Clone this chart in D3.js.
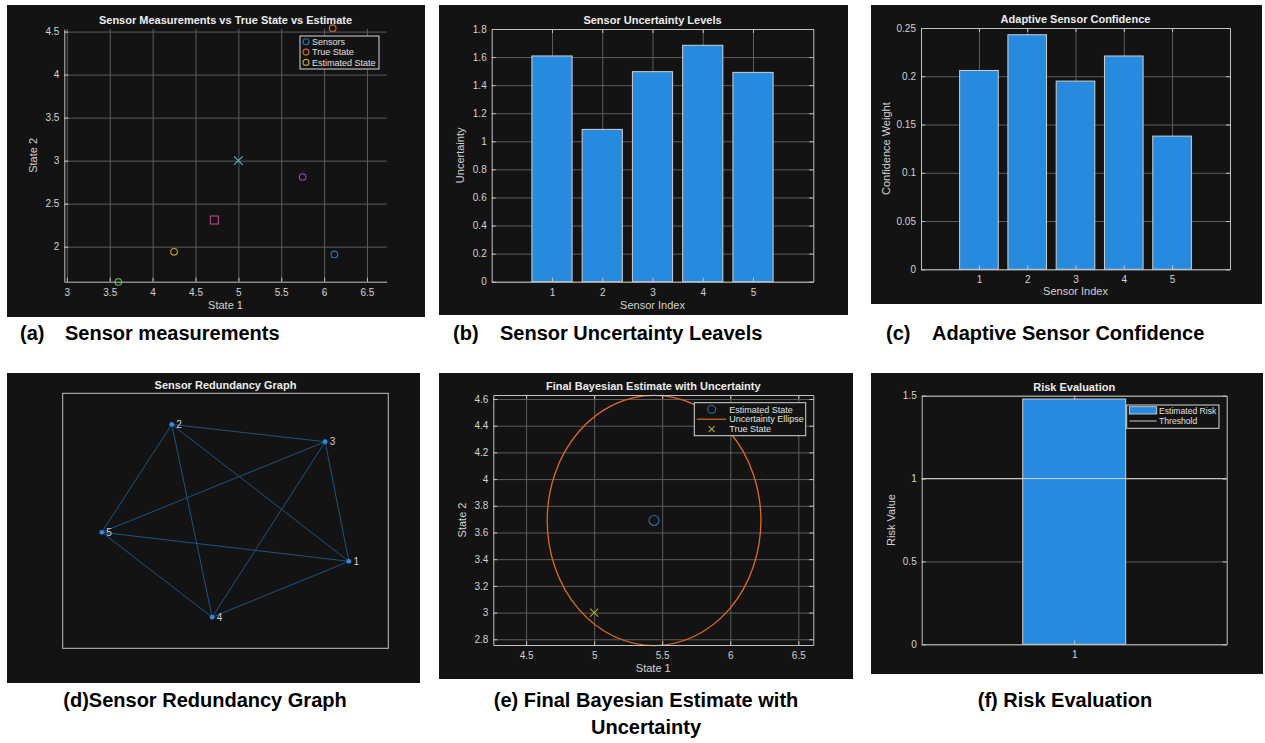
<!DOCTYPE html>
<html><head><meta charset="utf-8">
<script src="https://cdn.jsdelivr.net/npm/d3@7"></script>
<style>
body{margin:0;background:#fff;}
svg{display:block;font-family:"Liberation Sans",Arial,Helvetica,sans-serif;}
</style></head><body>
<svg id="c" width="1265" height="743"></svg>
<script>
// ================= DATA =================
// (a) Sensor measurements
const aTicksX = [3, 3.5, 4, 4.5, 5, 5.5, 6, 6.5];
const aTicksY = [2, 2.5, 3, 3.5, 4, 4.5];
const aCircleX = [6.12, 6.10, 4.25, 5.75, 3.60];
const aCircleY = [1.91, 4.54, 1.94, 2.81, 1.59];
const aSquareX = [4.72];
const aSquareY = [2.31];
const aCrossX = [5.0];
const aCrossY = [3.0];
const aLegend = ["Sensors", "True State", "Estimated State"];

// (b) Sensor uncertainty
const sensorIndex = [1, 2, 3, 4, 5];
const uncertainty = [1.608, 1.085, 1.496, 1.684, 1.491];
const bTicksY = [0, 0.2, 0.4, 0.6, 0.8, 1, 1.2, 1.4, 1.6, 1.8];

// (c) Adaptive confidence
const confidence = [0.206, 0.243, 0.195, 0.221, 0.138];
const cTicksY = [0, 0.05, 0.1, 0.15, 0.2, 0.25];

// (d) Redundancy graph
const nodeIds = [1, 2, 3, 4, 5];
const nodeX = [0.879, 0.335, 0.806, 0.459, 0.120];
const nodeY = [0.341, 0.878, 0.810, 0.122, 0.455];
const edgeFrom = [1, 1, 1, 1, 2, 2, 2, 3, 3, 4];
const edgeTo   = [2, 3, 4, 5, 3, 4, 5, 4, 5, 5];

// (e) Final Bayesian estimate
const estState = [5.44, 3.69];
const ellipseRadii = [0.785, 0.937];
const trueState = [5.0, 3.0];
const eTicksX = [4.5, 5, 5.5, 6, 6.5];
const eTicksY = [2.8, 3, 3.2, 3.4, 3.6, 3.8, 4, 4.2, 4.4, 4.6];
const eLegend = ["Estimated State", "Uncertainty Ellipse", "True State"];

// (f) Risk evaluation
const riskCategory = [1];
const riskValue = [1.48];
const riskThreshold = [1];
const fTicksY = [0, 0.5, 1, 1.5];
const fLegend = ["Estimated Risk", "Threshold"];

// captions
const captionsTop = [["(a)", "Sensor measurements"], ["(b)", "Sensor Uncertainty Leavels"], ["(c)", "Adaptive Sensor Confidence"]];
const captionsBottom = [["(d)Sensor Redundancy Graph"], ["(e) Final Bayesian Estimate with", "Uncertainty"], ["(f) Risk Evaluation"]];

// ================= STYLE =================
const BG = "#131313", GRID = "#5c5c5c", AX = "#c2c2c2", TXT = "#d2d2d2", TITLE = "#ececec", BAR = "#268ade", BAREDGE = "#d0d0d0";
const fmt = d3.format("~g");
const svg = d3.select("#c");
svg.append("rect").attr("width", 1265).attr("height", 743).attr("fill", "#fff");

function bg(x0, y0, x1, y1) {
  svg.append("rect").attr("x", x0).attr("y", y0).attr("width", x1 - x0).attr("height", y1 - y0).attr("fill", BG);
}
function grid(x, y, xt, yt) {
  const [xa, xb] = x.range(), [ya, yb] = y.range();
  const g = svg.append("g");
  const style = s => { s.attr("font-family", null); s.select(".domain").remove(); s.selectAll("line").attr("stroke", GRID).attr("stroke-width", 1); };
  if (xt) g.append("g").attr("transform", `translate(0,${ya})`)
    .call(d3.axisBottom(x).tickValues(xt).tickSize(-(ya - yb)).tickFormat("")).call(style);
  if (yt) g.append("g").attr("transform", `translate(${xa},0)`)
    .call(d3.axisLeft(y).tickValues(yt).tickSize(-(xb - xa)).tickFormat("")).call(style);
}
function axes(x, y, xt, yt, o) {
  const [xa, xb] = x.range(), [ya, yb] = y.range();
  const style = s => {
    s.attr("font-family", null).attr("font-size", 10).attr("color", AX);
    s.selectAll("text").attr("fill", TXT);
  };
  svg.append("g").attr("transform", `translate(0,${ya})`)
    .call(d3.axisBottom(x).tickValues(xt).tickSizeInner(-4).tickSizeOuter(0).tickPadding(o.xPad).tickFormat(o.xFmt || fmt)).call(style);
  svg.append("g").attr("transform", `translate(${xa},0)`)
    .call(d3.axisLeft(y).tickValues(yt).tickSizeInner(-4).tickSizeOuter(0).tickPadding(5).tickFormat(fmt)).call(style);
  if (o.box) {
    svg.append("g").attr("transform", `translate(0,${yb})`)
      .call(d3.axisTop(x).tickValues(xt).tickSizeInner(-4).tickSizeOuter(0).tickFormat("")).call(style);
    svg.append("g").attr("transform", `translate(${xb},0)`)
      .call(d3.axisRight(y).tickValues(yt).tickSizeInner(-4).tickSizeOuter(0).tickFormat("")).call(style);
  }
  const cx = (xa + xb) / 2, cy = (ya + yb) / 2;
  svg.append("text").attr("x", cx).attr("y", yb - 5).attr("text-anchor", "middle")
    .attr("font-size", 11).attr("font-weight", "bold").attr("fill", TITLE).text(o.title);
  if (o.xLabel) svg.append("text").attr("x", cx).attr("y", ya + o.xLabOff).attr("text-anchor", "middle")
    .attr("font-size", 11).attr("fill", TXT).text(o.xLabel);
  if (o.yLabel) svg.append("text").attr("transform", `translate(${xa - o.yLabOff},${cy}) rotate(-90)`)
    .attr("text-anchor", "middle").attr("font-size", 11).attr("fill", TXT).text(o.yLabel);
}
function marker(g, type, px, py, color, r) {
  if (type === "o") g.append("circle").attr("cx", px).attr("cy", py).attr("r", r).attr("fill", "none").attr("stroke", color).attr("stroke-width", 1.1);
  else if (type === "s") g.append("rect").attr("x", px - r).attr("y", py - r).attr("width", 2 * r).attr("height", 2 * r).attr("fill", "none").attr("stroke", color).attr("stroke-width", 1.1);
  else if (type === "x") g.append("path").attr("d", `M${px - r},${py - r}L${px + r},${py + r}M${px - r},${py + r}L${px + r},${py - r}`).attr("stroke", color).attr("stroke-width", 1.1);
}
function legendBox(x0, y0, x1, y1) {
  svg.append("rect").attr("x", x0).attr("y", y0).attr("width", x1 - x0).attr("height", y1 - y0)
    .attr("fill", BG).attr("stroke", "#d8d8d8").attr("stroke-width", 1);
}

// ================= (a) =================
bg(7, 5, 425, 317);
{
  const x = d3.scaleLinear().domain([2.97, 6.73]).range([64.3, 386.7]);
  const y = d3.scaleLinear().domain([1.593, 4.53]).range([281.7, 29]);
  grid(x, y, aTicksX, aTicksY);
  const g = svg.append("g");
  const cCols = ["#2a73ba", "#d9641f", "#c9a227", "#a040d0", "#4fb83a"];
  aCircleX.forEach((v, i) => marker(g, "o", x(v), y(aCircleY[i]), cCols[i], 3.3));
  aSquareX.forEach((v, i) => marker(g, "s", x(v), y(aSquareY[i]), "#b84a8c", 4));
  aCrossX.forEach((v, i) => marker(g, "x", x(v), y(aCrossY[i]), "#4dbdcc", 4.3));
  axes(x, y, aTicksX, aTicksY, { box: false, xPad: 7, title: "Sensor Measurements vs True State vs Estimate", xLabel: "State 1", yLabel: "State 2", xLabOff: 27, yLabOff: 27 });
  legendBox(300, 36, 379, 69);
  const lc = ["#2a73ba", "#d9641f", "#c9a227"];
  aLegend.forEach((t, i) => {
    const ly = 41.8 + i * 10.3;
    marker(svg, "o", 306, ly, lc[i], 3);
    svg.append("text").attr("x", 312).attr("y", ly + 3.2).attr("font-size", 9).attr("fill", "#e0e0e0").text(t);
  });
}

// ================= (b) =================
bg(439, 5, 848, 315);
{
  const x = d3.scaleLinear().domain([-0.2, 6.2]).range([491.7, 813.3]);
  const y = d3.scaleLinear().domain([0, 1.8]).range([281.7, 29]);
  grid(x, y, sensorIndex, bTicksY);
  svg.append("g").selectAll("rect").data(sensorIndex).join("rect")
    .attr("x", d => x(d - 0.4)).attr("width", x(0.8) - x(0))
    .attr("y", (d, i) => y(uncertainty[i])).attr("height", (d, i) => y(0) - y(uncertainty[i]))
    .attr("fill", BAR).attr("stroke", BAREDGE).attr("stroke-width", 1);
  axes(x, y, sensorIndex, bTicksY, { box: true, xPad: 7, title: "Sensor Uncertainty Levels", xLabel: "Sensor Index", yLabel: "Uncertainty", xLabOff: 27, yLabOff: 28 });
}

// ================= (c) =================
bg(871, 5, 1262, 304);
{
  const x = d3.scaleLinear().domain([-0.2, 6.2]).range([921, 1230]);
  const y = d3.scaleLinear().domain([0, 0.25]).range([269.3, 28]);
  grid(x, y, sensorIndex, cTicksY);
  svg.append("g").selectAll("rect").data(sensorIndex).join("rect")
    .attr("x", d => x(d - 0.4)).attr("width", x(0.8) - x(0))
    .attr("y", (d, i) => y(confidence[i])).attr("height", (d, i) => y(0) - y(confidence[i]))
    .attr("fill", BAR).attr("stroke", BAREDGE).attr("stroke-width", 1);
  axes(x, y, sensorIndex, cTicksY, { box: true, xPad: 7, title: "Adaptive Sensor Confidence", xLabel: "Sensor Index", yLabel: "Confidence Weight", xLabOff: 26, yLabOff: 31 });
}

// ================= (d) =================
bg(7, 373, 420, 683);
{
  const x = d3.scaleLinear().domain([0, 1]).range([62.7, 388.3]);
  const y = d3.scaleLinear().domain([0, 1]).range([648.3, 393.3]);
  svg.append("rect").attr("x", 62.7).attr("y", 393.3).attr("width", 388.3 - 62.7).attr("height", 648.3 - 393.3)
    .attr("fill", "none").attr("stroke", AX).attr("stroke-width", 1);
  const idx = id => nodeIds.indexOf(id);
  svg.append("g").selectAll("line").data(edgeFrom).join("line")
    .attr("x1", d => x(nodeX[idx(d)])).attr("y1", d => y(nodeY[idx(d)]))
    .attr("x2", (d, i) => x(nodeX[idx(edgeTo[i])])).attr("y2", (d, i) => y(nodeY[idx(edgeTo[i])]))
    .attr("stroke", "#1d5482").attr("stroke-width", 1);
  svg.append("g").selectAll("circle").data(nodeIds).join("circle")
    .attr("cx", (d, i) => x(nodeX[i])).attr("cy", (d, i) => y(nodeY[i])).attr("r", 2.4).attr("fill", "#2b8ce2");
  svg.append("g").selectAll("text").data(nodeIds).join("text")
    .attr("x", (d, i) => x(nodeX[i]) + 4.5).attr("y", (d, i) => y(nodeY[i]) + 3.7)
    .attr("font-size", 10).attr("fill", "#d0d0d0").text(d => d);
  svg.append("text").attr("x", 225.5).attr("y", 389).attr("text-anchor", "middle")
    .attr("font-size", 11).attr("font-weight", "bold").attr("fill", TITLE).text("Sensor Redundancy Graph");
}

// ================= (e) =================
bg(439, 373, 853, 679);
{
  const x = d3.scaleLinear().domain([4.259, 6.61]).range([493.3, 813.3]);
  const y = d3.scaleLinear().domain([2.757, 4.63]).range([645, 395]);
  grid(x, y, eTicksX, eTicksY);
  svg.append("ellipse").attr("cx", x(estState[0])).attr("cy", y(estState[1]))
    .attr("rx", x(estState[0] + ellipseRadii[0]) - x(estState[0]))
    .attr("ry", y(estState[1] - ellipseRadii[1]) - y(estState[1]))
    .attr("fill", "none").attr("stroke", "#e0691f").attr("stroke-width", 1.3);
  const g = svg.append("g");
  marker(g, "o", x(estState[0]), y(estState[1]), "#2a6fb2", 5);
  marker(g, "x", x(trueState[0]), y(trueState[1]), "#b8a33a", 4);
  axes(x, y, eTicksX, eTicksY, { box: true, xPad: 7, title: "Final Bayesian Estimate with Uncertainty", xLabel: "State 1", yLabel: "State 2", xLabOff: 27, yLabOff: 27 });
  legendBox(694.3, 402.7, 805.7, 435.7);
  const rows = [409.3, 419.2, 429.2];
  marker(svg, "o", 711.7, rows[0], "#2a6fb2", 4);
  svg.append("line").attr("x1", 696.7).attr("x2", 726).attr("y1", rows[1]).attr("y2", rows[1]).attr("stroke", "#e0691f").attr("stroke-width", 1.2);
  marker(svg, "x", 711.7, rows[2], "#b8a33a", 3);
  eLegend.forEach((t, i) => svg.append("text").attr("x", 729.3).attr("y", rows[i] + 3.2).attr("font-size", 9).attr("fill", "#e0e0e0").text(t));
}

// ================= (f) =================
bg(871, 373, 1263, 674);
{
  const x = d3.scaleLinear().domain([1 - 1.185, 1 + 1.185]).range([921.7, 1226.7]);
  const y = d3.scaleLinear().domain([0, 1.5]).range([644.3, 395.7]);
  grid(x, y, null, fTicksY);
  svg.append("g").selectAll("rect").data(riskCategory).join("rect")
    .attr("x", d => x(d - 0.4)).attr("width", x(0.8) - x(0))
    .attr("y", (d, i) => y(riskValue[i])).attr("height", (d, i) => y(0) - y(riskValue[i]))
    .attr("fill", BAR).attr("stroke", BAREDGE).attr("stroke-width", 1);
  svg.append("g").selectAll("line").data(riskThreshold).join("line")
    .attr("x1", 921.7).attr("x2", 1226.7).attr("y1", d => y(d)).attr("y2", d => y(d))
    .attr("stroke", "#cfcfcf").attr("stroke-width", 1);
  axes(x, y, riskCategory, fTicksY, { box: true, xPad: 7, title: "Risk Evaluation", yLabel: "Risk Value", yLabOff: 27 });
  legendBox(1126.7, 405, 1219, 428.3);
  svg.append("rect").attr("x", 1129.3).attr("y", 406.7).attr("width", 27.4).attr("height", 7.3).attr("fill", BAR).attr("stroke", "#e0e0e0").attr("stroke-width", 0.8);
  svg.append("line").attr("x1", 1129.3).attr("x2", 1156.7).attr("y1", 421).attr("y2", 421).attr("stroke", "#cfcfcf").attr("stroke-width", 1);
  fLegend.forEach((t, i) => svg.append("text").attr("x", 1159).attr("y", [410.3, 421][i] + 3.2).attr("font-size", 8.6).attr("fill", "#e0e0e0").text(t));
}

// ================= captions =================
const capX = [[20, 65], [453, 500], [886, 932]];
captionsTop.forEach((c, i) => {
  svg.append("text").attr("x", capX[i][0]).attr("y", 340).attr("font-size", 20).attr("font-weight", "bold").attr("fill", "#000").text(c[0]);
  svg.append("text").attr("x", capX[i][1]).attr("y", 340).attr("font-size", 20).attr("font-weight", "bold").attr("fill", "#000").text(c[1]);
});
const capC = [205, 646, 1065];
captionsBottom.forEach((c, i) => {
  c.forEach((line, j) => svg.append("text").attr("x", capC[i]).attr("y", 707 + j * 27).attr("text-anchor", "middle")
    .attr("font-size", 20).attr("font-weight", "bold").attr("fill", "#000").text(line));
});
</script>
</body></html>
